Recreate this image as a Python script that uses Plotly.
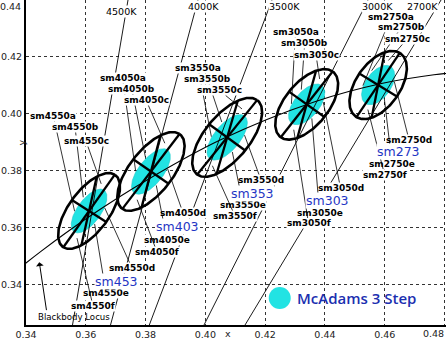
import numpy as np
import plotly.graph_objects as go

# ---------------- data ----------------
cct_names = ["4500K", "4000K", "3500K", "3000K", "2700K"]
bin_prefix = ["sm4550", "sm4050", "sm3550", "sm3050", "sm2750"]
group_names = ["sm453", "sm403", "sm353", "sm303", "sm273"]
bins = ["a", "b", "c", "d", "e", "f"]

# ellipse centres (CIE 1931 x, y)
center_x = [0.3611, 0.3818, 0.4073, 0.4339, 0.4578]
center_y = [0.3658, 0.3797, 0.3917, 0.4033, 0.4101]
# one-step MacAdam ellipse parameters
step_a = [0.00296, 0.00313, 0.00317, 0.00278, 0.00258]
step_b = [0.00127, 0.00134, 0.00139, 0.00136, 0.00137]
theta_deg = [56.0, 54.0, 52.58, 53.13, 57.28]
outer_steps = 5.2
inner_steps = 3.0

# Planckian (blackbody) locus points
locus_x = [0.4857, 0.4765, 0.4593, 0.4366, 0.4053, 0.3805, 0.3607, 0.3450, 0.3323]
locus_y = [0.4147, 0.4137, 0.4107, 0.4042, 0.3909, 0.3767, 0.3635, 0.3516, 0.3410]

# isotemperature lines: x at bottom (y=0.3257) and at top (y=0.44)
iso_x_bottom = [0.35556, 0.36827, 0.38125, 0.39955, 0.41327]
iso_x_top = [0.37412, 0.39754, 0.42230, 0.45442, 0.47884]
iso_y_ends = [0.3257, 0.44]

# CCT label positions
cct_label_x = [0.37202, 0.39922, 0.42632, 0.45743, 0.47249]
cct_label_y = [0.43613, 0.43789, 0.43789, 0.43789, 0.43754]

# bin label positions (a..f) per group
bin_label_x = [
    [0.34913, 0.35639, 0.36007, 0.37546, 0.36676, 0.36242],
    [0.37228, 0.37536, 0.38015, 0.39253, 0.38717, 0.38383],
    [0.39754, 0.40072, 0.40457, 0.41862, 0.41260, 0.40992],
    [0.43016, 0.43324, 0.43702, 0.44522, 0.43819, 0.43451],
    [0.46211, 0.46563, 0.46747, 0.46814, 0.46245, 0.45994],
]
bin_label_y = [
    [0.39920, 0.39533, 0.39040, 0.34573, 0.33694, 0.33237],
    [0.41256, 0.40887, 0.40483, 0.36508, 0.35558, 0.35136],
    [0.41608, 0.41221, 0.40834, 0.37669, 0.36789, 0.36402],
    [0.42874, 0.42488, 0.42065, 0.37387, 0.36520, 0.36140],
    [0.43402, 0.43050, 0.42628, 0.39076, 0.38240, 0.37860],
]
group_label_x = [0.37011, 0.39052, 0.41561, 0.44087, 0.46446]
group_label_y = [0.34116, 0.36051, 0.37211, 0.36960, 0.38685]

x_ticks = [0.34, 0.36, 0.38, 0.40, 0.42, 0.44, 0.46, 0.48]
y_ticks = [0.34, 0.36, 0.38, 0.40, 0.42, 0.44]

# ---------------- geometry helpers ----------------
divider_rel = [0.0, 90.0, 22.0]                     # bin dividing lines (relative to major axis)
bin_target = {"a": (125, 0.6), "b": (56, 0.65), "c": (11, 0.72),
              "d": (315, 0.6), "e": (236, 0.62), "f": (191, 0.72)}


def ellipse_pts(cx, cy, a, b, th, n=200):
    t = np.linspace(0, 2 * np.pi, n)
    r = np.radians(th)
    x = cx + a * np.cos(t) * np.cos(r) - b * np.sin(t) * np.sin(r)
    y = cy + a * np.cos(t) * np.sin(r) + b * np.sin(t) * np.cos(r)
    return x, y


def edge_radius(a, b, rel):
    r = np.radians(rel)
    return 1.0 / np.sqrt((np.cos(r) / a) ** 2 + (np.sin(r) / b) ** 2)


fig = go.Figure()

# cyan 3-step ellipses
for i in range(5):
    ex, ey = ellipse_pts(center_x[i], center_y[i], step_a[i] * inner_steps,
                         step_b[i] * inner_steps * 1.05, theta_deg[i])
    fig.add_trace(go.Scatter(x=ex, y=ey, mode="lines", fill="toself",
                             fillcolor="#22E3E3", line=dict(color="#1BC9C9", width=0.6),
                             hoverinfo="skip", showlegend=False))

# isotemperature lines
iso_x, iso_y = [], []
for i in range(5):
    iso_x += [iso_x_bottom[i], iso_x_top[i], None]
    iso_y += [iso_y_ends[0], iso_y_ends[1], None]
fig.add_trace(go.Scatter(x=iso_x, y=iso_y, mode="lines",
                         line=dict(color="black", width=0.9), hoverinfo="skip", showlegend=False))

# blackbody locus
fig.add_trace(go.Scatter(x=locus_x, y=locus_y, mode="lines",
                         line=dict(color="black", width=1.1, shape="spline", smoothing=1.0),
                         hoverinfo="skip", showlegend=False))

# outer black ellipses and bin dividers
div_x, div_y = [], []
for i in range(5):
    A = step_a[i] * outer_steps
    B = step_b[i] * outer_steps * 1.05
    ex, ey = ellipse_pts(center_x[i], center_y[i], A, B, theta_deg[i])
    fig.add_trace(go.Scatter(x=ex, y=ey, mode="lines",
                             line=dict(color="black", width=2.6),
                             hoverinfo="skip", showlegend=False))
    for rel in divider_rel:
        rr = edge_radius(A, B, rel)
        ang = np.radians(theta_deg[i] + rel)
        dx, dy = rr * np.cos(ang), rr * np.sin(ang)
        div_x += [center_x[i] - dx, center_x[i] + dx, None]
        div_y += [center_y[i] - dy, center_y[i] + dy, None]
fig.add_trace(go.Scatter(x=div_x, y=div_y, mode="lines",
                         line=dict(color="black", width=2.3),
                         hoverinfo="skip", showlegend=False))

# legend marker
fig.add_trace(go.Scatter(x=[0.42488], y=[0.33518], mode="markers",
                         marker=dict(size=22, color="#22E3E3", line=dict(width=0)),
                         hoverinfo="skip", showlegend=False))

annotations = []
lab_font = dict(family="DejaVu Sans", size=9, color="black")

# bin labels with leader lines
for i in range(5):
    A = step_a[i] * outer_steps
    B = step_b[i] * outer_steps * 1.05
    for j, b in enumerate(bins):
        rel, frac = bin_target[b]
        rr = edge_radius(A, B, rel) * frac
        ang = np.radians(theta_deg[i] + rel)
        tx = center_x[i] + rr * np.cos(ang)
        ty = center_y[i] + rr * np.sin(ang)
        annotations.append(dict(
            x=tx, y=ty, xref="x", yref="y",
            ax=bin_label_x[i][j], ay=bin_label_y[i][j], axref="x", ayref="y",
            text="<b>" + bin_prefix[i] + b + "</b>", font=lab_font,
            showarrow=True, arrowhead=0, arrowwidth=0.8, arrowcolor="black",
            bgcolor="white", borderpad=0, standoff=0, startstandoff=0))

# group labels (blue)
for i in range(5):
    annotations.append(dict(x=group_label_x[i], y=group_label_y[i], xref="x", yref="y",
                            text=group_names[i], showarrow=False, bgcolor="white", borderpad=0,
                            font=dict(family="DejaVu Sans", size=12.5, color="#1F36C4")))

# CCT labels
for i in range(5):
    annotations.append(dict(x=cct_label_x[i], y=cct_label_y[i], xref="x", yref="y",
                            text=cct_names[i], showarrow=False, bgcolor="white", borderpad=0,
                            font=dict(family="DejaVu Sans", size=9.5, color="black")))

# Blackbody locus label + arrow
annotations.append(dict(x=0.35606, y=0.3285, xref="x", yref="y", text="Blackbody Locus",
                        showarrow=False, font=dict(family="DejaVu Sans", size=8.6, color="black")))
annotations.append(dict(x=0.34445, y=0.3478, xref="x", yref="y",
                        ax=0.34692, ay=0.33040, axref="x", ayref="y", text="",
                        showarrow=True, arrowhead=1, arrowsize=1.3, arrowwidth=1.0,
                        arrowcolor="black"))

# legend text
annotations.append(dict(x=0.42990, y=0.33518, xref="x", yref="y", xanchor="left",
                        text="McAdams 3 Step", showarrow=False,
                        font=dict(family="Open Sans", size=15, color="#1B2FB0", weight=600)))

# edge tick labels and axis titles
tick_font = dict(family="DejaVu Sans", size=9.5, color="#222222")
annotations.append(dict(x=0, y=0.44, xref="paper", yref="y", xanchor="right", yanchor="top",
                        xshift=-3, yshift=1, text="0.44", showarrow=False, font=tick_font))
annotations.append(dict(x=1, y=0, xref="paper", yref="paper", xanchor="right", yanchor="top",
                        yshift=-1, text="0.48", showarrow=False, font=tick_font))
annotations.append(dict(x=0.40758, y=0, xref="x", yref="paper", yanchor="top",
                        yshift=-1, text="x", showarrow=False, font=tick_font))
annotations.append(dict(x=0, y=0.38970, xref="paper", yref="y", xshift=-12,
                        text="y", textangle=-90, showarrow=False, font=tick_font))

grid = dict(showgrid=True, gridcolor="#333333", gridwidth=1, griddash="3px,3px",
            zeroline=False, ticks="", automargin=False, showline=True,
            linecolor="black", linewidth=2, tickfont=tick_font)

fig.update_layout(
    width=446, height=340,
    margin=dict(l=26, r=0, t=0, b=15),
    paper_bgcolor="white", plot_bgcolor="white",
    xaxis=dict(range=[0.34, 0.4805], tickvals=x_ticks,
               ticktext=["%.2f" % v for v in x_ticks[:-1]] + [""], **grid),
    yaxis=dict(range=[0.3257, 0.44], tickvals=y_ticks,
               ticktext=["%.2f" % v for v in y_ticks[:-1]] + [""], **grid),
    annotations=annotations,
    showlegend=False,
)

fig.write_html("out.html")
